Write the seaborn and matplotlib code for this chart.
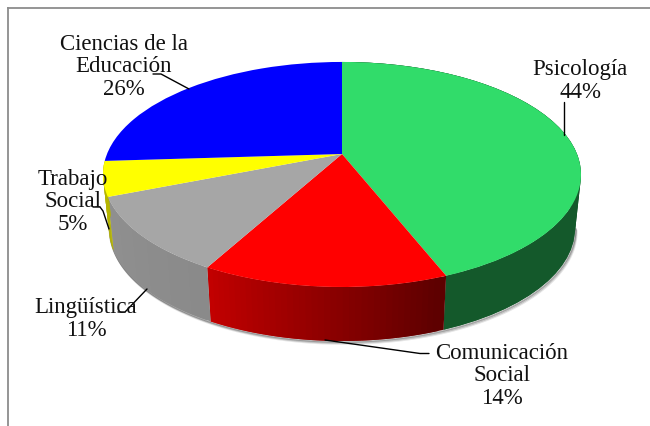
import numpy as np
import seaborn as sns
import matplotlib.pyplot as plt
from matplotlib.transforms import Transform

# areas and their share (%)
carreras = ['Psicología', 'Comunicación\nSocial', 'Lingüística', 'Trabajo\nSocial', 'Ciencias de la\nEducación']
valores = [44, 14, 11, 5, 26]
colores = ['#31dc6a', '#ff0000', '#a6a6a6', '#ffff00', '#0000ff']
lado_ini = ['#14592b', '#5e0000', '#8a8a8a', '#b5b500']
lado_fin = ['#14592b', '#c40000', '#909090', '#b5b500']

sns.set_theme(style='white')
plt.rcParams['font.family'] = ['Liberation Serif', 'DejaVu Serif']

# perspective of the pie, in pixels of the picture
CX, CY = 342, 155
K, SX, SY = 0.182, 235, 108.8
ALTO, ENCOGE = 54, 0.975


def proyecta(u, v):
    w = 1 + K * v
    return CX + SX * u / w, CY - SY * v / w


class Perspectiva(Transform):
    input_dims = 2
    output_dims = 2

    def transform_non_affine(self, values):
        x, y = proyecta(values[:, 0], values[:, 1])
        return np.column_stack([x, y])


fig = plt.figure(figsize=(6.5, 4.27), dpi=100)
ax = fig.add_axes([8 / 650, 0, 642 / 650, 418 / 427])

tot = np.cumsum([0] + valores) / sum(valores) * 2 * np.pi

# soft shadow under the wall
th = np.radians(np.linspace(100, 262, 120))
xs, ys = proyecta(np.sin(th), np.cos(th))
for d, a in [(3.0, 0.10), (2.0, 0.18), (1.0, 0.30)]:
    ax.plot(CX + (xs - CX) * ENCOGE + d * 0.6, ys + ALTO + d, color='black', alpha=a, lw=1.2, zorder=1)

# wall, strip by strip; each strip overlaps the next so no seams show (blue wall is hidden)
for i in range(len(lado_ini)):
    n = 40
    grad = sns.blend_palette([lado_ini[i], lado_fin[i]], n)
    t = np.linspace(tot[i], tot[i + 1], n + 1)
    for j in range(n):
        tramo = t[n - j - 1:n - j + 1] if j == 0 else t[n - j - 1:n - j + 2]
        x0, y0 = proyecta(np.sin(tramo), np.cos(tramo))
        xb = CX + (x0 - CX) * ENCOGE
        yb = y0 + ALTO
        ax.fill(np.r_[x0, xb[::-1]], np.r_[y0, yb[::-1]], color=grad[n - j - 1], lw=0, zorder=2 + i * 0.01)

# top face
cuñas, _ = ax.pie(valores, colors=colores, startangle=90, counterclock=False, radius=1,
                  wedgeprops={'linewidth': 0})
for c in cuñas:
    c.set_transform(Perspectiva() + ax.transData)
    c.set_zorder(3)

ax.set_aspect('auto')
ax.set_frame_on(True)
ax.set_xlim(8, 650)
ax.set_ylim(427, 9)
sns.despine(ax=ax, top=False, right=True, left=False, bottom=True)
for s in ['left', 'top']:
    ax.spines[s].set_color('#8c8c8c')
    ax.spines[s].set_linewidth(1.3)

# leader lines
guias = [
    ([564, 564], [103, 136]),
    ([325, 420, 429], [341, 354.5, 354.5]),
    ([118, 125, 147], [313, 313, 290]),
    ([93, 100, 103, 109], [208, 208, 212, 230]),
    ([153, 161, 189], [75, 75, 90]),
]
for gx, gy in guias:
    ax.plot(gx, gy, color='black', lw=1, zorder=5)

# labels
pos = [(580, 81), (502, 376), (86, 319), (73, 202), (124, 67)]
for nom, val, (px, py) in zip(carreras, valores, pos):
    ax.text(px, py, f'{nom}\n{val}%', ha='center', va='center', ma='center',
            fontsize=16.5, linespacing=1.07, color='#111111', zorder=6)

fig.savefig('out.png', dpi=100)
